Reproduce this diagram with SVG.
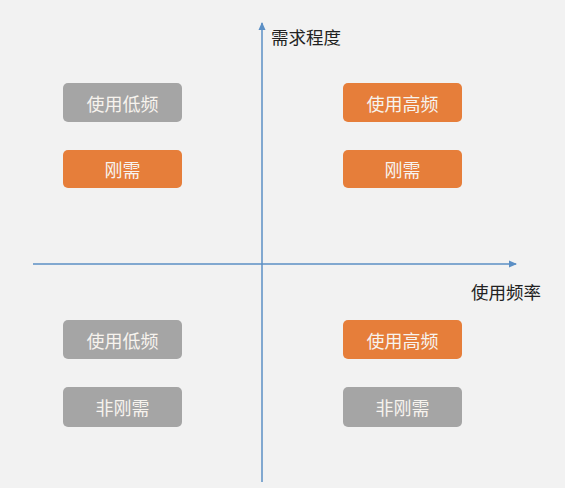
<svg xmlns="http://www.w3.org/2000/svg" width="565" height="488" viewBox="0 0 565 488">
<style>
.box{stroke:none}
.gray{fill:#a5a5a5}
.orange{fill:#e67e3a}
.bt{font-family:"Noto Sans CJK SC","Noto Sans",sans-serif;font-size:18px;fill:#f7f3ee;text-anchor:middle;dominant-baseline:central}
.lab{font-family:"Noto Sans CJK SC","Noto Sans",sans-serif;font-size:17.5px;fill:#222}
.axis{stroke:#5b8fc5;stroke-width:1.5;fill:none}
</style>
<defs>
<marker id="ah" markerWidth="8" markerHeight="8" refX="7" refY="4" orient="auto" markerUnits="userSpaceOnUse">
<path d="M0,0.5 L8,4 L0,7.5 Z" fill="#5b8fc5"/>
</marker>
</defs>
<rect width="565" height="488" fill="#f2f2f2"/>
<g id="connectors">
<line class="axis" x1="262" y1="482" x2="262" y2="23" marker-end="url(#ah)"/>
<line class="axis" x1="33" y1="264" x2="516" y2="264" marker-end="url(#ah)"/>
</g>
<g id="label-y"><text class="lab" x="271" y="44">需求程度</text></g>
<g id="label-x"><text class="lab" x="471" y="299">使用频率</text></g>
<g id="tl1"><rect class="box gray" x="63" y="83" width="119" height="39" rx="5"/><text class="bt" x="122.5" y="102.5">使用低频</text></g>
<g id="tl2"><rect class="box orange" x="63" y="150" width="119" height="38" rx="5"/><text class="bt" x="122.5" y="169">刚需</text></g>
<g id="tr1"><rect class="box orange" x="343" y="83" width="119" height="39" rx="5"/><text class="bt" x="402.5" y="102.5">使用高频</text></g>
<g id="tr2"><rect class="box orange" x="343" y="150" width="119" height="38" rx="5"/><text class="bt" x="402.5" y="169">刚需</text></g>
<g id="bl1"><rect class="box gray" x="63" y="320" width="119" height="39" rx="5"/><text class="bt" x="122.5" y="339.5">使用低频</text></g>
<g id="bl2"><rect class="box gray" x="63" y="387" width="119" height="40" rx="5"/><text class="bt" x="122.5" y="407">非刚需</text></g>
<g id="br1"><rect class="box orange" x="343" y="320" width="119" height="39" rx="5"/><text class="bt" x="402.5" y="339.5">使用高频</text></g>
<g id="br2"><rect class="box gray" x="343" y="387" width="119" height="40" rx="5"/><text class="bt" x="402.5" y="407">非刚需</text></g>
</svg>
